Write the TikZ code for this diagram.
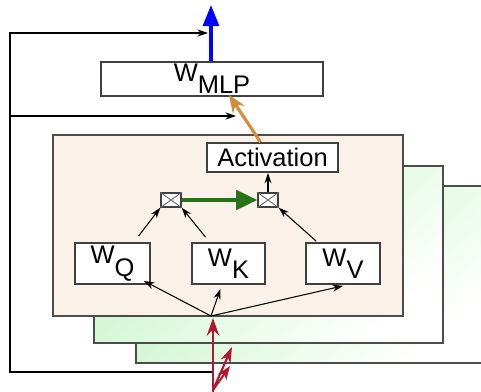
\documentclass[tikz,border=0pt]{standalone}
\usepackage{fontspec}
\setmainfont{Liberation Sans}
\usetikzlibrary{arrows.meta,calc}

\definecolor{beige}{RGB}{250,241,232}
\definecolor{lgreen}{RGB}{196,244,196}
\definecolor{dgreen}{RGB}{40,115,25}
\definecolor{wred}{RGB}{175,25,50}
\definecolor{worange}{RGB}{210,140,60}

\begin{document}
\begin{tikzpicture}[
  x=0.02cm, y=-0.02cm, >={Stealth[length=6pt,width=4pt]},
  font=\fontsize{14.5}{17}\selectfont,
  box/.style={draw=black!75, line width=1pt, fill=white, inner sep=0pt},
  layer/.style={draw=black!70, line width=1pt, top color=lgreen, bottom color=white,
    shading angle=40},
  mult/.style={draw=black!75, line width=0.8pt, fill=white, inner sep=0pt,
    minimum width=0.4cm, minimum height=0.28cm},
  thin/.style={black, line width=0.6pt}
]
  \clip (0,0) rectangle (481,392);

  % stacked layers
  \draw[layer] (136,186) rectangle (490,363);
  \draw[layer] (94,166) rectangle (443,343);
  \draw[draw=black!70, line width=1pt, fill=beige] (53,135) rectangle (403,316);

  \node[box, minimum width=4.44cm, minimum height=0.68cm] (Wmlp) at (212,79)
    {W\raisebox{-7pt}{MLP}};
  \node[box, minimum width=2.62cm, minimum height=0.58cm] (Act) at (272.5,157.5)
    {Activation};
  \node[mult] (M1) at (171,200) {};
  \node[mult] (M2) at (268,200) {};
  \draw[black!60, line width=0.5pt]
    (M1.north west) -- (M1.south east) (M1.south west) -- (M1.north east)
    (M2.north west) -- (M2.south east) (M2.south west) -- (M2.north east);
  \node[box, minimum width=1.5cm, minimum height=0.82cm] (WQ) at (112.5,263.5)
    {W\raisebox{-7pt}{Q}};
  \node[box, minimum width=1.46cm, minimum height=0.82cm] (WK) at (228.5,263.5)
    {W\raisebox{-7pt}{K}};
  \node[box, minimum width=1.48cm, minimum height=0.82cm] (WV) at (343,263.5)
    {W\raisebox{-7pt}{V}};

  \coordinate (In) at (211,316);
  \coordinate (Bot) at (213,392);
  \coordinate (Res) at (213,372);
  \coordinate (Out) at (211,5);

  % input fan-out
  \draw[thin, ->] (In) -- ($(WQ.south east)+(-7,-4)$);
  \draw[thin, ->] (In) -- ($(WK.south)+(-8,4)$);
  \draw[thin, ->] (In) -- ($(WV.south)+(0,1)$);

  % attention products
  \draw[thin, ->] ($(WQ.north)+(26,-6)$) -- (M1.south west);
  \draw[thin, ->] ($(WK.north)+(-23,-5)$) -- (M1.south east);
  \draw[thin, ->] ($(WV.north west)+(11,-1)$) -- (M2.south east);
  \draw[thin, ->] (M2.north) -- (Act.south -| M2.north);
  \draw[dgreen, line width=2.2pt, -{Triangle[length=12pt,width=11pt]}]
    (M1.east) -- (M2.west);

  % outputs
  \draw[worange, line width=1.8pt, -{Stealth[length=10pt,width=8pt]}]
    ($(Act.north)+(-12,0)$) -- ($(Wmlp.south)+(17,-2)$);
  \draw[blue, line width=2pt, -{Triangle[length=12pt,width=9pt]}]
    (Wmlp.north -| Out) -- (Out);

  % residual paths
  \draw[thin, ->] (Res) -- (10,372) -- (10,33) -- ($(Out)+(-3,28)$);
  \draw[thin, ->] (10,116) -- (236,116);

  % input arrows
  \draw[wred, line width=1.3pt, -{Stealth[length=10pt,width=7pt]}] (Bot) -- (213,318);
  \draw[wred, line width=1.2pt, -{Stealth[length=9pt,width=6pt]}] (213,390) -- (232,347);
  \draw[wred, line width=1.2pt, -{Stealth[length=8pt,width=6pt]}] (213,390) -- (230,366);
\end{tikzpicture}
\end{document}
